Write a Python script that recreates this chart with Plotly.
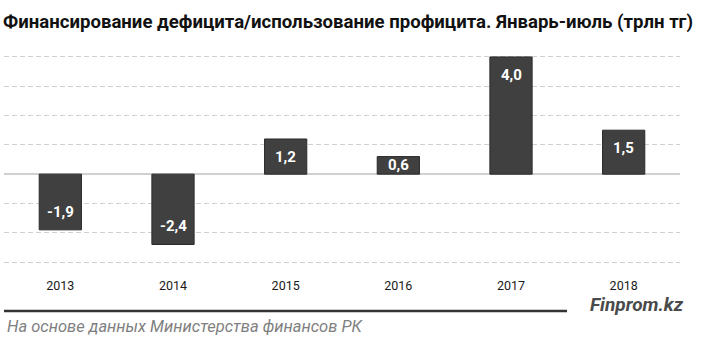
import plotly.graph_objects as go

years = ["2013", "2014", "2015", "2016", "2017", "2018"]
values = [-1.9, -2.4, 1.2, 0.6, 4.0, 1.5]
labels = ["-1,9", "-2,4", "1,2", "0,6", "4,0", "1,5"]

title = "Финансирование дефицита/использование профицита. Январь-июль (трлн тг)"
source = "На основе данных Министерства финансов РК"
brand = "Finprom.kz"

FONT = "Roboto"
W, H = 720, 337
ml, mr, mt, mb = 4, 40, 54, 72
pw = W - ml - mr
ph = H - mt - mb
ylo, yhi = -3.1, 4.1
px_per_unit = ph / (yhi - ylo)

xi = list(range(len(years)))

fig = go.Figure()
fig.add_trace(go.Bar(
    x=xi, y=values,
    marker=dict(color="#404040", line=dict(color="#2b2b2b", width=1)),
    width=[0.375] * len(xi),
    hoverinfo="skip",
))

# value labels inside bars near their end
off = 18 / px_per_unit
for i, v, t in zip(xi, values, labels):
    a = abs(v)
    pos = max(a - off, a / 2)
    yl = pos if v >= 0 else -pos
    fig.add_annotation(x=i, y=yl, xref="x", yref="y", text="<b>" + t + "</b>", showarrow=False,
                       font=dict(family=FONT, size=15, color="white"),
                       xanchor="center", yanchor="middle")

def py(ypix):
    return (H - mb - ypix) / ph

def pxr(xpix):
    return (xpix - ml) / pw

fig.add_shape(type="line", xref="paper", yref="paper",
              x0=pxr(4), x1=pxr(567), y0=py(311), y1=py(311),
              line=dict(color="#333333", width=2.5))

fig.add_annotation(xref="paper", yref="paper", x=pxr(637), y=py(304), text="<b><i>" + brand + "</i></b>",
                   showarrow=False, xanchor="center", yanchor="middle",
                   font=dict(family=FONT, size=19, color="#4a4a4a"))
fig.add_annotation(xref="paper", yref="paper", x=pxr(5), y=py(326), text="<i>" + source + "</i>",
                   showarrow=False, xanchor="left", yanchor="middle",
                   font=dict(family=FONT, size=16.5, color="#7f7f7f"))

fig.update_layout(
    width=W, height=H,
    margin=dict(l=ml, r=mr, t=mt, b=mb, pad=0, autoexpand=False),
    paper_bgcolor="white", plot_bgcolor="white",
    showlegend=False,
    title=dict(text="<b>" + title + "</b>", xref="container", yref="container",
               x=3 / W, y=1 - 21 / H, xanchor="left", yanchor="middle",
               font=dict(family=FONT, size=18.6, color="#111111")),
    xaxis=dict(type="linear", range=[-0.5, len(xi) - 0.5], autorange=False,
               tickmode="array", tickvals=xi, ticktext=years,
               showgrid=False, showline=False, zeroline=False,
               ticks="outside", ticklen=9, tickcolor="rgba(0,0,0,0)",
               tickfont=dict(family=FONT, size=12.5, color="#1a1a1a")),
    yaxis=dict(type="linear", range=[ylo, yhi], autorange=False, dtick=1, tick0=0,
               showticklabels=False,
               showgrid=True, gridcolor="#d0d0d0", gridwidth=1, griddash="5px,3px",
               zeroline=True, zerolinecolor="#d0d0d0", zerolinewidth=1.5,
               showline=False),
)

fig.write_html("out.html")
